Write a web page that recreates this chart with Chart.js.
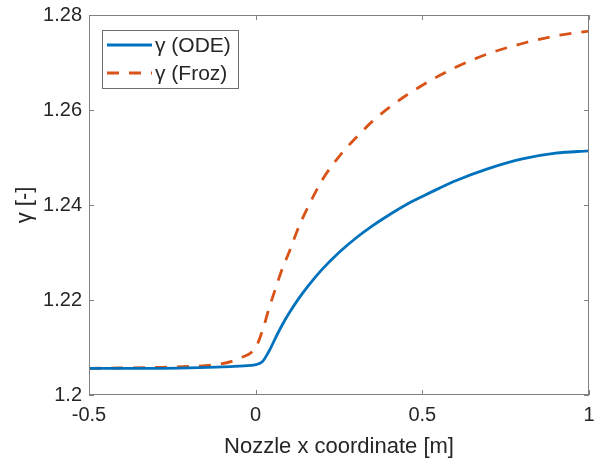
<!DOCTYPE html>
<html>
<head>
<meta charset="utf-8">
<script src="https://cdn.jsdelivr.net/npm/chart.js@4"></script>
<style>
  html, body { margin:0; padding:0; background:#fff; }
  #wrap { width:596px; height:464px; }
</style>
</head>
<body>
<div id="wrap"><canvas id="c" width="596" height="464"></canvas></div>
<script>
// data
const xs      = [-0.5, -0.4, -0.3, -0.2, -0.1, -0.05, 0, 0.02, 0.04, 0.06, 0.08, 0.1, 0.13, 0.16, 0.2, 0.25, 0.3, 0.35, 0.4, 0.45, 0.5, 0.55, 0.6, 0.7, 0.8, 0.9, 1.0];
const gamODE  = [1.2056, 1.2056, 1.2056, 1.2057, 1.2059, 1.2061, 1.2064, 1.2070, 1.2092, 1.2121, 1.2148, 1.2172, 1.2204, 1.2232, 1.2265, 1.2300, 1.2330, 1.2356, 1.2379, 1.2400, 1.2418, 1.2435, 1.2451, 1.2477, 1.2497, 1.2509, 1.2514];
const gamFroz = [1.2056, 1.2057, 1.2058, 1.2060, 1.2066, 1.2077, 1.2100, 1.2135, 1.2182, 1.2225, 1.2266, 1.2300, 1.2355, 1.2400, 1.2453, 1.2502, 1.2541, 1.2576, 1.2605, 1.2630, 1.2652, 1.2672, 1.2690, 1.2719, 1.2740, 1.2756, 1.2766];
const xTicks = [-0.5, 0, 0.5, 1];
const yTicks = [1.2, 1.22, 1.24, 1.26, 1.28];
const seriesNames = ["γ (ODE)", "γ (Froz)"];

const TXT = "#262626", AX = "#808080";
const FONT = "Arial, 'Liberation Sans', Helvetica, sans-serif";

const pts = (ys)=>xs.map((x,i)=>({x, y:ys[i]}));

// axes box + inward ticks like matlab
const boxPlugin = {
  id:"box",
  afterDatasetsDraw(chart){
    const {ctx, chartArea:a, scales} = chart;
    ctx.save();
    ctx.strokeStyle = AX; ctx.lineWidth = 1;
    ctx.strokeRect(a.left+0.5, a.top+0.5, a.right-a.left-1, a.bottom-a.top-1);
    ctx.beginPath();
    xTicks.forEach(v=>{
      const px = Math.round(scales.x.getPixelForValue(v))+0.5;
      ctx.moveTo(px, a.bottom); ctx.lineTo(px, a.bottom-5);
      ctx.moveTo(px, a.top);    ctx.lineTo(px, a.top+5);
    });
    yTicks.forEach(v=>{
      const py = Math.round(scales.y.getPixelForValue(v))+0.5;
      ctx.moveTo(a.left, py);  ctx.lineTo(a.left+5, py);
      ctx.moveTo(a.right, py); ctx.lineTo(a.right-5, py);
    });
    ctx.stroke();

    // legend box, top-left inside
    const lx = 102, ly = 30, lw = 136, lh = 58;
    ctx.fillStyle = "#fff";
    ctx.fillRect(lx, ly, lw, lh);
    ctx.strokeStyle = "#6e6e6e";
    ctx.strokeRect(lx+0.5, ly+0.5, lw, lh);
    chart.data.datasets.forEach((ds,i)=>{
      const y = ly + 15 + i*28;
      ctx.beginPath();
      ctx.strokeStyle = ds.borderColor; ctx.lineWidth = ds.borderWidth;
      ctx.setLineDash(ds.borderDash || []);
      ctx.moveTo(lx+5, y); ctx.lineTo(lx+50, y); ctx.stroke();
      ctx.setLineDash([]);
      ctx.fillStyle = TXT; ctx.font = "21px " + FONT;
      ctx.textBaseline = "middle"; ctx.textAlign = "left";
      ctx.fillText(ds.label, lx+53, y+1);
    });
    ctx.restore();
  }
};

new Chart(document.getElementById("c"), {
  type:"line",
  data:{ datasets:[
    {label:seriesNames[0], data:pts(gamODE), borderColor:"#0072BD", borderWidth:2.8,
     pointRadius:0, cubicInterpolationMode:"monotone", fill:false},
    {label:seriesNames[1], data:pts(gamFroz), borderColor:"#D95319", borderWidth:2.8,
     borderDash:[12,10], borderCapStyle:"butt",
     pointRadius:0, cubicInterpolationMode:"monotone", fill:false},
  ]},
  options:{
    responsive:false, animation:false, devicePixelRatio:1,
    layout:{ padding:{top:15, right:7, left:0, bottom:0} },
    plugins:{ legend:{display:false}, tooltip:{enabled:false} },
    scales:{
      x:{ type:"linear", min:-0.5, max:1,
          afterBuildTicks:(s)=>{ s.ticks = xTicks.map(v=>({value:v})); },
          afterFit:(s)=>{ s.height = 69; s.paddingLeft = 0; s.paddingRight = 0; },
          grid:{display:false, drawTicks:false}, border:{display:false},
          ticks:{ padding:8, color:TXT, font:{family:FONT, size:20},
                  callback:(v)=>String(+v.toFixed(2)), maxRotation:0 },
          title:{ display:true, text:"Nozzle x coordinate [m]", color:TXT,
                  font:{family:FONT, size:22}, padding:{top:0, bottom:4} } },
      y:{ type:"linear", min:1.2, max:1.28,
          afterBuildTicks:(s)=>{ s.ticks = yTicks.map(v=>({value:v})); },
          afterFit:(s)=>{ s.width = 89; s.paddingTop = 0; s.paddingBottom = 0; },
          grid:{display:false, drawTicks:false}, border:{display:false},
          ticks:{ padding:7, color:TXT, font:{family:FONT, size:20},
                  callback:(v)=>String(+v.toFixed(2)) },
          title:{ display:true, text:"γ [-]", color:TXT,
                  font:{family:FONT, size:22}, padding:{top:12, bottom:0} } }
    }
  },
  plugins:[boxPlugin]
});
</script>
</body>
</html>
